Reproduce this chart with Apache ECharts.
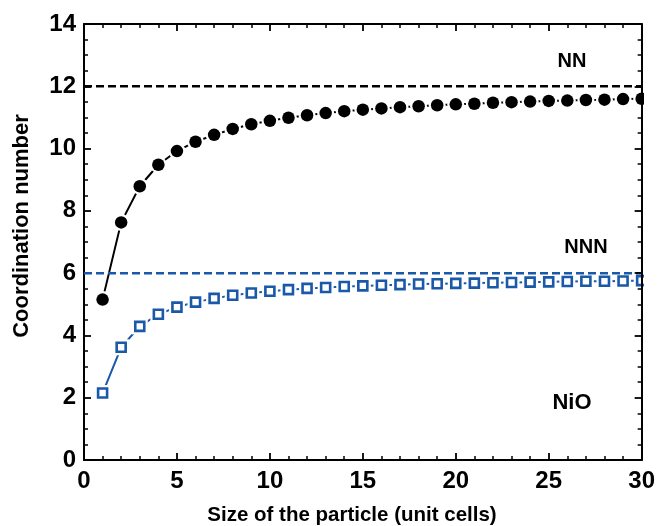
<!DOCTYPE html>
<html>
<head>
<meta charset="utf-8">
<script src="https://cdn.jsdelivr.net/npm/echarts@6/dist/echarts.min.js"></script>
<style>
  html, body { margin: 0; padding: 0; background: #fff; }
  #chart { width: 658px; height: 526px; }
</style>
</head>
<body>
<div id="chart"></div>
<script>
// Particle size in unit cells
const sizes = [1, 2, 3, 4, 5, 6, 7, 8, 9, 10, 11, 12, 13, 14, 15,
               16, 17, 18, 19, 20, 21, 22, 23, 24, 25, 26, 27, 28, 29, 30];
// Nearest-neighbour coordination number
const nnValues = [5.15, 7.63, 8.79, 9.48, 9.92, 10.22, 10.44, 10.63, 10.78, 10.89,
                  10.99, 11.07, 11.14, 11.20, 11.25, 11.29, 11.33, 11.36, 11.39, 11.42,
                  11.44, 11.47, 11.49, 11.51, 11.53, 11.54, 11.56, 11.57, 11.59, 11.60];
// Next-nearest-neighbour coordination number
const nnnValues = [2.15, 3.62, 4.29, 4.68, 4.91, 5.07, 5.19, 5.29, 5.36, 5.42,
                   5.47, 5.51, 5.54, 5.57, 5.59, 5.61, 5.63, 5.65, 5.66, 5.67,
                   5.68, 5.69, 5.70, 5.71, 5.72, 5.73, 5.74, 5.74, 5.75, 5.76];
// Bulk values (dashed reference levels)
const bulkNN = 12;
const bulkNNN = 6;
const xRange = [0, 30];
const yRange = [0, 14];
const xTitle = 'Size of the particle (unit cells)';
const yTitle = 'Coordination number';
const tagNN = 'NN';
const tagNNN = 'NNN';
const tagNiO = 'NiO';

const FONT = '"Liberation Sans", Arial, Helvetica, sans-serif';
const BLACK = '#000000';
const BLUE = '#1a58a8';
const grid = { left: 84, right: 15, top: 24, bottom: 66 };

const nnData = sizes.map((s, i) => [s, nnValues[i]]);
const nnnData = sizes.map((s, i) => [s, nnnValues[i]]);
const levelData = v => [[xRange[0], v], [xRange[1], v]];

function frameAxis(extra) {
  return Object.assign({
    type: 'value',
    axisLine: { show: true, onZero: false, lineStyle: { color: BLACK, width: 2 } },
    axisTick: { show: true, inside: true, length: 7, lineStyle: { color: BLACK, width: 1.8 } },
    minorTick: { show: true, length: 4, lineStyle: { color: BLACK, width: 1.5 } },
    splitLine: { show: false },
    axisLabel: { show: false }
  }, extra);
}

const tickLabel = { show: true, color: BLACK, fontFamily: FONT, fontWeight: 'bold', fontSize: 24 };

const chart = echarts.init(document.getElementById('chart'), null, { renderer: 'canvas' });

const option = {
  animation: false,
  backgroundColor: '#ffffff',
  grid: grid,
  xAxis: [
    frameAxis({ position: 'bottom', min: xRange[0], max: xRange[1], interval: 5,
      minorTick: { show: true, splitNumber: 5, length: 4, lineStyle: { color: BLACK, width: 1.5 } },
      axisLabel: Object.assign({ margin: 9 }, tickLabel) }),
    frameAxis({ position: 'top', min: xRange[0], max: xRange[1], interval: 5,
      minorTick: { show: true, splitNumber: 5, length: 4, lineStyle: { color: BLACK, width: 1.5 } } })
  ],
  yAxis: [
    frameAxis({ position: 'left', min: yRange[0], max: yRange[1], interval: 2,
      minorTick: { show: true, splitNumber: 4, length: 4, lineStyle: { color: BLACK, width: 1.5 } },
      axisLabel: Object.assign({ margin: 8 }, tickLabel) }),
    frameAxis({ position: 'right', min: yRange[0], max: yRange[1], interval: 2, z: 20,
      minorTick: { show: true, splitNumber: 4, length: 4, lineStyle: { color: BLACK, width: 1.5 } } })
  ],
  series: [
    // connecting lines
    { type: 'line', data: nnData, z: 2, showSymbol: false, symbol: 'none',
      lineStyle: { color: BLACK, width: 2 } },
    { type: 'line', data: nnnData, z: 2, showSymbol: false, symbol: 'none',
      lineStyle: { color: BLUE, width: 2 } },
    // white halos leave a small gap between the line and each symbol
    { type: 'scatter', data: nnData, z: 3, symbol: 'circle', symbolSize: 17,
      itemStyle: { color: '#ffffff', opacity: 1 } },
    { type: 'scatter', data: nnnData, z: 3, symbol: 'rect', symbolSize: 16,
      itemStyle: { color: '#ffffff', opacity: 1 } },
    // bulk levels
    { type: 'line', data: levelData(bulkNN), z: 4, symbol: 'none',
      lineStyle: { color: BLACK, width: 2.5, type: [8, 4] } },
    { type: 'line', data: levelData(bulkNNN), z: 4, symbol: 'none',
      lineStyle: { color: BLUE, width: 2.5, type: [8, 4] } },
    // symbols
    { type: 'scatter', data: nnData, z: 5, symbol: 'circle', symbolSize: 12.5,
      itemStyle: { color: BLACK, opacity: 1 } },
    { type: 'scatter', data: nnnData, z: 5, symbol: 'rect', symbolSize: 9,
      itemStyle: { color: '#ffffff', borderColor: BLUE, borderWidth: 2.6, opacity: 1 } }
  ],
  graphic: [
    // mask outside the right frame so edge symbols are cut at the axis
    { type: 'rect', z: 10, silent: true,
      shape: { x: 658 - grid.right + 1, y: 0, width: grid.right, height: 526 - grid.bottom + 1 },
      style: { fill: '#ffffff' } },
    { type: 'text', z: 30, x: 352, y: 515,
      style: { text: xTitle, font: 'bold 20.5px ' + FONT, fill: BLACK, align: 'center', verticalAlign: 'middle' } },
    { type: 'text', z: 30, x: 22, y: 226, rotation: Math.PI / 2,
      style: { text: yTitle, font: 'bold 22px ' + FONT, fill: BLACK, align: 'center', verticalAlign: 'middle' } },
    { type: 'text', z: 30, x: 572, y: 61,
      style: { text: tagNN, font: 'bold 20px ' + FONT, fill: BLACK, align: 'center', verticalAlign: 'middle' } },
    { type: 'text', z: 30, x: 586, y: 247,
      style: { text: tagNNN, font: 'bold 20px ' + FONT, fill: BLACK, align: 'center', verticalAlign: 'middle' } },
    { type: 'text', z: 30, x: 572, y: 403,
      style: { text: tagNiO, font: 'bold 22px ' + FONT, fill: BLACK, align: 'center', verticalAlign: 'middle' } }
  ]
};

chart.setOption(option);
</script>
</body>
</html>
